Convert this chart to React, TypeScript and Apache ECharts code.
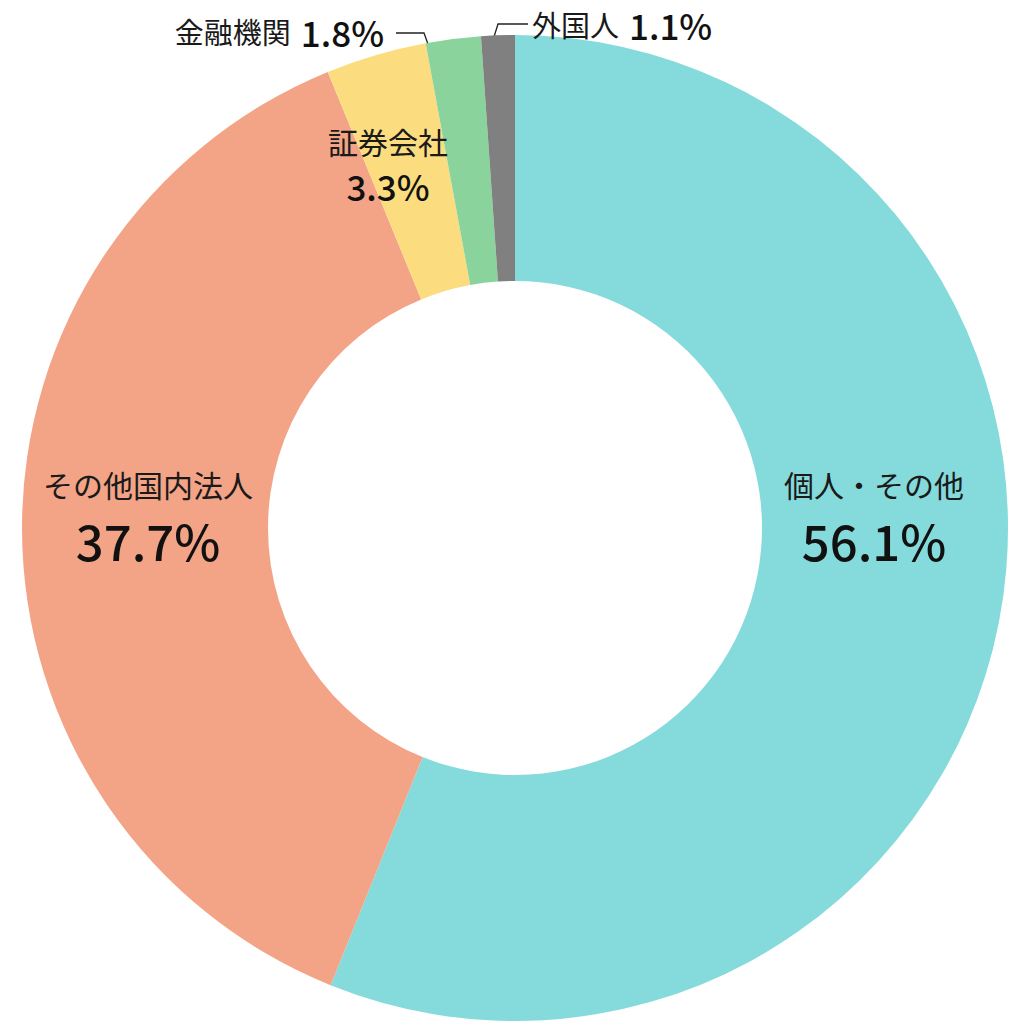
import React, { useEffect, useRef } from "react";
import * as echarts from "echarts";

const categories = ["個人・その他", "その他国内法人", "証券会社", "金融機関", "外国人"];
const values = [56.1, 37.7, 3.3, 1.8, 1.1];
const colors = ["#85DBDB", "#F3A486", "#FBDD80", "#8BD39C", "#808080"];
const labelStyles = ["big", "big", "mid", "out", "out"];

// label anchor placements [x, y, align]
const labelPlaces: [number, number, string][] = [
  [874, 518, "center"],
  [148, 518, "center"],
  [388, 164, "center"],
  [384, 31, "right"],
  [532, 24, "left"],
];
const leaderLines: (number[][] | null)[] = [
  null,
  null,
  null,
  [[433, 58], [424, 33], [396, 33]],
  [[489, 53], [498, 24], [528, 24]],
];

const FONT = "'Noto Sans CJK JP', 'Noto Sans', sans-serif";

export default function App() {
  const ref = useRef<HTMLDivElement>(null);
  useEffect(() => {
    document.body.style.margin = "0";
    const chart = echarts.init(ref.current!, null, { renderer: "svg" });
    const data = categories.map((name, i) => {
      const kind = labelStyles[i];
      let formatter = "";
      if (kind === "big") formatter = "{n|{b}}\n{vb|{c}%}";
      else if (kind === "mid") formatter = "{n|{b}}\n{vm|{c}%}";
      else formatter = "{no|{b}}{vo|{c}%}";
      return {
        name,
        value: values[i],
        itemStyle: { color: colors[i] },
        label: {
          show: true,
          position: kind === "out" ? "outside" : "inside",
          formatter,
        },
        labelLine: {
          show: kind === "out",
          lineStyle: { color: "#222", width: 1.3 },
        },
      };
    });
    chart.setOption({
      animation: false,
      series: [
        {
          type: "pie",
          center: [515, 528],
          radius: [247, 493],
          startAngle: 90,
          clockwise: true,
          avoidLabelOverlap: false,
          data,
          label: {
            fontFamily: FONT,
            color: "#1a1a1a",
            rich: {
              n: { fontSize: 30, fontFamily: FONT, color: "#1a1a1a", lineHeight: 42 },
              no: { fontSize: 29, fontFamily: FONT, color: "#1a1a1a", padding: [0, 10, 0, 0], lineHeight: 36 },
              vb: { fontSize: 49, fontFamily: FONT, fontWeight: 500, color: "#111", lineHeight: 68 },
              vm: { fontSize: 35, fontFamily: FONT, fontWeight: 500, color: "#111", lineHeight: 46 },
              vo: { fontSize: 35, fontFamily: FONT, fontWeight: 500, color: "#111", lineHeight: 36 },
            },
          },
          labelLayout: (params: any) => {
            const i = params.dataIndex;
            const [x, y, align] = labelPlaces[i];
            const res: any = { x, y, align, verticalAlign: "middle" };
            if (leaderLines[i]) res.labelLinePoints = leaderLines[i];
            return res;
          },
        },
      ],
    });
    return () => chart.dispose();
  }, []);
  return <div ref={ref} style={{ width: 1024, height: 1024 }} />;
}
